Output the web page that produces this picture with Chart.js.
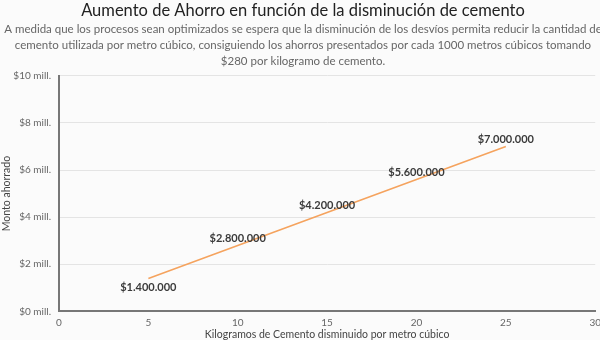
<!DOCTYPE html>
<html>
<head>
<meta charset="utf-8">
<script src="https://cdn.jsdelivr.net/npm/chart.js@4"></script>
<style>
html,body{margin:0;padding:0;background:#fbfbfb;overflow:hidden;}
#wrap{width:606px;height:340px;position:relative;}
</style>
</head>
<body>
<div id="wrap"><canvas id="c"></canvas></div>
<script>
const kilos = [5, 10, 15, 20, 25];
const savings = [1400000, 2800000, 4200000, 5600000, 7000000];
const savingLabels = ['$1.400.000', '$2.800.000', '$4.200.000', '$5.600.000', '$7.000.000'];
const titleText = 'Aumento de Ahorro en función de la disminución de cemento';
const subtitleLines = [
  'A medida que los procesos sean optimizados se espera que la disminución de los desvíos permita reducir la cantidad de',
  'cemento utilizada por metro cúbico, consiguiendo los ahorros presentados por cada 1000 metros cúbicos tomando',
  '$280 por kilogramo de cemento.'
];
const xTitle = 'Kilogramos de Cemento disminuido por metro cúbico';
const yTitle = 'Monto ahorrado';

const FONT = "Lato, sans-serif";

const pointLabels = {
  id: 'pointLabels',
  afterDatasetsDraw(chart) {
    const ctx = chart.ctx;
    const meta = chart.getDatasetMeta(0);
    ctx.save();
    ctx.font = "bold 11px " + FONT;
    ctx.fillStyle = '#3a3a3a';
    ctx.textAlign = 'center';
    ctx.textBaseline = 'middle';
    meta.data.forEach((el, i) => {
      const dy = i === 0 ? 9 : -7;
      ctx.fillText(savingLabels[i], el.x, el.y + dy);
    });
    ctx.restore();
  }
};

new Chart(document.getElementById('c'), {
  type: 'line',
  data: {
    datasets: [{
      data: kilos.map((k, i) => ({x: k, y: savings[i]})),
      borderColor: '#f5a35e',
      borderWidth: 1.6,
      pointRadius: 0,
      pointHoverRadius: 0,
      fill: false,
      tension: 0
    }]
  },
  options: {
    responsive: true,
    maintainAspectRatio: false,
    animation: false,
    layout: {padding: {left: 0, right: 0, top: 0, bottom: 0}},
    plugins: {
      legend: {display: false},
      tooltip: {enabled: false},
      title: {
        display: true,
        text: titleText,
        color: '#222',
        font: {family: FONT, size: 16.5, weight: 'normal', lineHeight: 1.2},
        padding: {top: 1, bottom: 1}
      },
      subtitle: {
        display: true,
        text: subtitleLines,
        color: '#666',
        font: {family: FONT, size: 11.5, weight: 'normal', lineHeight: 1.39},
        padding: {top: 0, bottom: 6}
      }
    },
    scales: {
      x: {
        type: 'linear',
        min: 0,
        max: 30,
        ticks: {stepSize: 5, color: '#666', font: {family: FONT, size: 10}, padding: 5},
        grid: {display: false, drawTicks: false},
        border: {color: '#777', width: 2},
        title: {display: true, text: xTitle, color: '#444', font: {family: FONT, size: 10.5}, padding: {top: -5, bottom: -1}}
      },
      y: {
        min: 0,
        max: 10000000,
        ticks: {
          stepSize: 2000000,
          color: '#666',
          font: {family: FONT, size: 10},
          padding: 8,
          callback: v => '$' + (v / 1000000) + ' mill.'
        },
        grid: {color: '#e4e4e4', lineWidth: 1, drawTicks: false},
        border: {color: '#777', width: 2},
        title: {display: true, text: yTitle, color: '#444', font: {family: FONT, size: 10.5}, padding: {top: 0, bottom: 2}},
        afterFit(scale) { scale.width = 59; }
      }
    }
  },
  plugins: [pointLabels]
});
</script>
</body>
</html>
